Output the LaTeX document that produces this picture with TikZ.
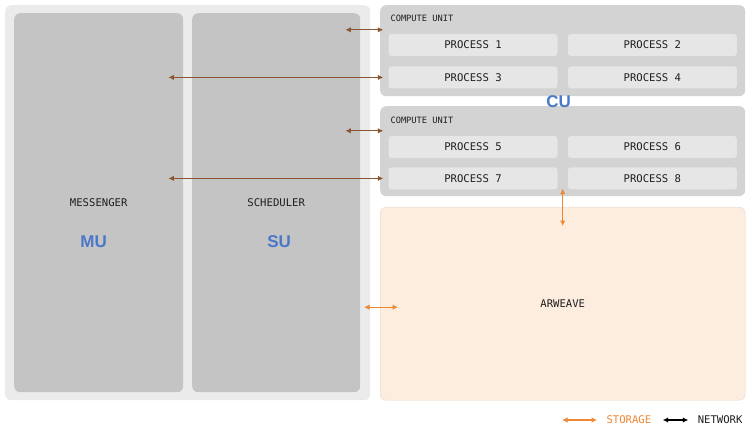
\documentclass[tikz,border=0pt]{standalone}
\usepackage{fontspec}
\setmonofont{DejaVu Sans Mono}
\setsansfont{Liberation Sans}
\usetikzlibrary{positioning,calc,arrows.meta}
\definecolor{outergray}{HTML}{EBEBEB}
\definecolor{unitgray}{HTML}{C4C4C4}
\definecolor{cugray}{HTML}{D3D3D3}
\definecolor{procgray}{HTML}{E6E6E6}
\definecolor{arfill}{HTML}{FDEDDF}
\definecolor{arline}{HTML}{E6D6C6}
\definecolor{tagblue}{HTML}{4A78C8}
\definecolor{netbrown}{HTML}{8A5530}
\definecolor{storeorange}{HTML}{EE8833}
\definecolor{labeltext}{HTML}{1E1E1E}
\begin{document}
\begin{tikzpicture}[x=1pt,y=-1pt,>={Latex[length=5.5pt,width=5.5pt]},
    box/.style={rounded corners=6pt,anchor=north west,inner sep=0pt},
    unit box/.style={box,fill=unitgray,minimum width=169pt,minimum height=379pt},
    cu box/.style={box,fill=cugray,minimum width=365pt,minimum height=91pt},
    proc node/.style={rounded corners=3pt,fill=procgray,minimum width=169pt,minimum height=22pt,inner sep=0pt,font=\ttfamily\fontsize{10.6}{12}\selectfont,text=labeltext},
    name text/.style={font=\ttfamily\fontsize{10.6}{12}\selectfont,text=labeltext},
    small text/.style={font=\ttfamily\fontsize{8.7}{10}\selectfont,text=labeltext,anchor=west},
    tag/.style={font=\sffamily\bfseries\fontsize{17}{20}\selectfont,text=tagblue},
    net/.style={<->,line width=1.2pt,netbrown},
    store/.style={<->,line width=1.2pt,storeorange}]
    \useasboundingbox (0,0) rectangle (750,428);
    \fill[white] (0,0) rectangle (750,428);

    \node[box,fill=outergray,minimum width=365pt,minimum height=395pt] (outer) at (5,5) {};
    \node[unit box] (mu) at (14,13) {};
    \node[unit box,minimum width=168pt] (su) at (192,13) {};
    \node[name text] (messenger) at (mu.center) {MESSENGER};
    \node[tag,xshift=-5pt] (mutag) [below=22pt of messenger] {MU};
    \node[name text] (scheduler) at (su.center) {SCHEDULER};
    \node[tag,xshift=3pt] (sutag) [below=22pt of scheduler] {SU};

    \node[cu box] (cu1) at (380,5) {};
    \node[cu box,minimum height=90pt] (cu2) at (380,106) {};
    \node[small text] (cu1label) at (387,18) {COMPUTE UNIT};
    \node[small text] (cu2label) at (387,120) {COMPUTE UNIT};
    \node[tag] (cutag) at ($(cu1.south)!.5!(cu2.north)+(-4,0)$) {CU};

    \node[proc node] (p1) at (473,45) {PROCESS 1};
    \node[proc node] (p2) [right=10pt of p1] {PROCESS 2};
    \node[proc node] (p3) [below=10pt of p1] {PROCESS 3};
    \node[proc node] (p4) [right=10pt of p3] {PROCESS 4};
    \node[proc node] (p5) at (473,147) {PROCESS 5};
    \node[proc node] (p6) [right=10pt of p5] {PROCESS 6};
    \node[proc node] (p7) [below=9pt of p5] {PROCESS 7};
    \node[proc node] (p8) [right=10pt of p7] {PROCESS 8};

    \node[box,fill=arfill,draw=arline,minimum width=365pt,minimum height=193pt,
        font=\ttfamily\fontsize{10.6}{12}\selectfont,text=labeltext] (arweave) at (380,207) {ARWEAVE};

    \draw[net] ([xshift=-15pt]su.east |- p1.north) ++(0,-4) coordinate (s1)
        -- ([xshift=-5pt]p1.west |- s1);
    \draw[net] ([xshift=-15pt]mu.east |- p3.west) -- ([xshift=-5pt]p3.west);
    \draw[net] ([xshift=-15pt]su.east |- p5.north) ++(0,-5) coordinate (s2)
        -- ([xshift=-5pt]p5.west |- s2);
    \draw[net] ([xshift=-15pt]mu.east |- p7.west) -- ([xshift=-5pt]p7.west);

    \coordinate (gap) at ($(p7.south east)!.5!(p8.south west)$);
    \draw[store] ([yshift=1pt]gap) -- ([yshift=-19pt]gap |- arweave.north);
    \draw[store] ([xshift=-16pt,yshift=-3.5pt]arweave.west) -- ([xshift=18pt,yshift=-3.5pt]arweave.west);

    \node[name text,text=storeorange,anchor=west] (storage) at (603,420) {STORAGE};
    \node[name text,anchor=east] (network) at (746,420) {NETWORK};
    \draw[store] ([xshift=-41pt]storage.west) -- ([xshift=-6pt]storage.west);
    \draw[<->,line width=1.2pt,black] ([xshift=8pt]storage.east) -- ([xshift=-6pt]network.west);
\end{tikzpicture}
\end{document}
